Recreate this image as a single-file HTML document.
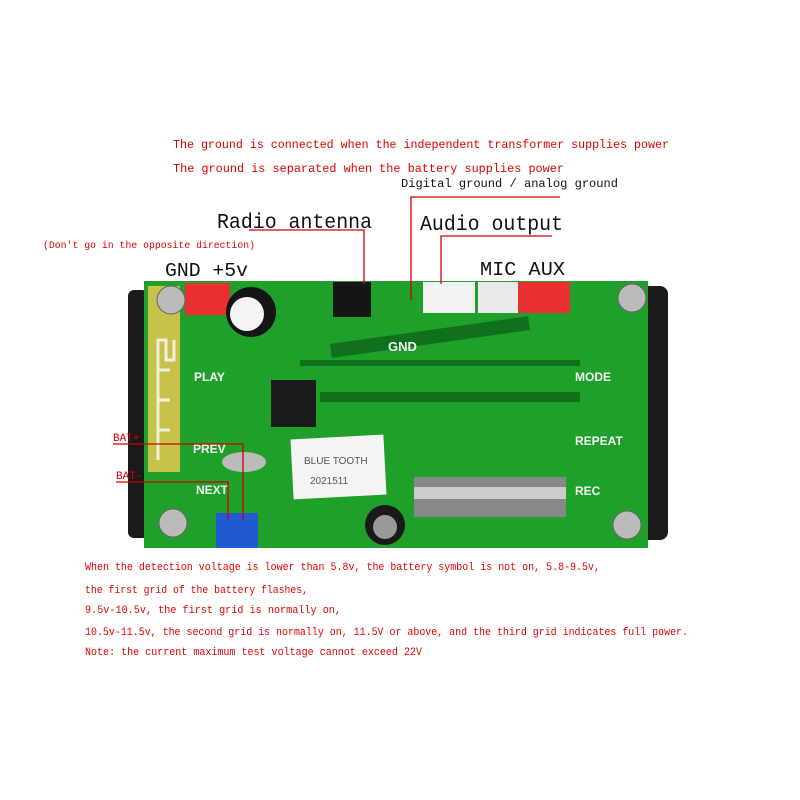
<!DOCTYPE html>
<html><head><meta charset="utf-8"><style>html,body{margin:0;padding:0;background:#fff}svg{display:block}</style></head><body>
<svg width="800" height="800" viewBox="0 0 800 800" xmlns="http://www.w3.org/2000/svg">
<rect width="800" height="800" fill="#fff"/>
<g font-family="Liberation Mono, monospace" fill="#e00000" font-size="12">
<text x="173" y="148" textLength="496" lengthAdjust="spacingAndGlyphs">The ground is connected when the independent transformer supplies power</text>
<text x="173" y="172" textLength="391" lengthAdjust="spacingAndGlyphs">The ground  is separated when the battery supplies power</text>
<text x="43" y="248" font-size="10" textLength="212" lengthAdjust="spacingAndGlyphs">(Don't go in the opposite direction)</text>
</g>
<text x="401" y="187" font-family="Liberation Mono, monospace" font-size="12" fill="#111" textLength="217" lengthAdjust="spacingAndGlyphs">Digital ground  / analog ground</text>
<g font-family="Liberation Mono, monospace" fill="#111" font-size="21">
<text x="217" y="228" textLength="155" lengthAdjust="spacingAndGlyphs">Radio antenna</text>
<text x="420" y="230" textLength="143" lengthAdjust="spacingAndGlyphs">Audio output</text>
<text x="165" y="276" font-size="19" textLength="83" lengthAdjust="spacingAndGlyphs">GND +5v</text>
<text x="480" y="275" font-size="19" textLength="85" lengthAdjust="spacingAndGlyphs">MIC AUX</text>
</g>
<rect x="128" y="290" width="20" height="248" fill="#1a1a1a" rx="6"/>
<rect x="640" y="286" width="28" height="254" fill="#1a1a1a" rx="8"/>
<rect x="144" y="281" width="504" height="267" fill="#1fa02a"/>
<rect x="148" y="286" width="32" height="186" fill="#c9c24a"/>
<path d="M158 460 V340 h8 v20 h8 v-20 M158 430 h12 M158 400 h12 M158 370 h12" stroke="#f0f0e0" stroke-width="3" fill="none"/>
<g fill="#11701c">
<rect x="330" y="330" width="200" height="14" transform="rotate(-8 430 337)"/>
<rect x="320" y="392" width="260" height="10"/>
<rect x="300" y="360" width="280" height="6"/>
</g>
<rect x="185" y="283" width="45" height="32" fill="#e83030"/>
<circle cx="251" cy="312" r="25" fill="#151515"/><circle cx="247" cy="314" r="17" fill="#f4f4f4"/>
<rect x="333" y="282" width="38" height="35" fill="#151515"/>
<rect x="423" y="282" width="52" height="31" fill="#f2f2f2"/>
<rect x="478" y="282" width="40" height="31" fill="#eaeaea"/>
<rect x="518" y="282" width="52" height="31" fill="#e83030"/>
<rect x="271" y="380" width="45" height="47" fill="#1a1a1a"/>
<rect x="292" y="437" width="93" height="60" fill="#f4f4f4" transform="rotate(-3 338 467)"/>
<text x="304" y="464" font-family="Liberation Sans, sans-serif" font-size="10" fill="#555">BLUE TOOTH</text>
<text x="310" y="484" font-family="Liberation Sans, sans-serif" font-size="10" fill="#555">2021511</text>
<rect x="414" y="477" width="152" height="40" fill="#888"/>
<rect x="414" y="487" width="152" height="12" fill="#ccc"/>
<rect x="216" y="513" width="42" height="35" fill="#1f5ad0"/>
<ellipse cx="244" cy="462" rx="22" ry="10" fill="#bbb"/>
<circle cx="385" cy="525" r="20" fill="#1a1a1a"/><circle cx="385" cy="527" r="12" fill="#999"/>
<g fill="#bbb" stroke="#666"><circle cx="171" cy="300" r="14"/><circle cx="632" cy="298" r="14"/><circle cx="173" cy="523" r="14"/><circle cx="627" cy="525" r="14"/></g>
<g font-family="Liberation Sans, sans-serif" font-weight="bold" fill="#f4f4f4" font-size="12">
<text x="194" y="381">PLAY</text><text x="193" y="453">PREV</text><text x="196" y="494">NEXT</text>
<text x="575" y="381">MODE</text><text x="575" y="445">REPEAT</text><text x="575" y="495">REC</text>
<text x="388" y="351" font-size="13">GND</text>
</g>
<g stroke="#d00000" stroke-width="1.3" fill="none">
<polyline points="249,230 364,230 364,284"/>
<polyline points="560,197 411,197 411,300"/>
<polyline points="552,236 441,236 441,284"/>
<polyline points="113,444 243,444 243,520"/>
<polyline points="116,482 228,482 228,520"/>
</g>
<g font-family="Liberation Mono, monospace" font-size="11" fill="#e00000">
<text x="113" y="441">BAT+</text><text x="116" y="479">BAT-</text>
</g>
<g font-family="Liberation Mono, monospace" fill="#e00000" font-size="10.6">
<text x="85" y="570" textLength="515" lengthAdjust="spacingAndGlyphs">When the detection voltage is lower than 5.8v, the battery symbol is not on, 5.8-9.5v,</text>
<text x="85" y="593" textLength="223" lengthAdjust="spacingAndGlyphs">the first grid of the battery flashes,</text>
<text x="85" y="613" textLength="256" lengthAdjust="spacingAndGlyphs"> 9.5v-10.5v, the first grid is normally on,</text>
<text x="85" y="635" textLength="603" lengthAdjust="spacingAndGlyphs">10.5v-11.5v, the second grid is normally on, 11.5V or above, and the third grid indicates full power.</text>
<text x="85" y="655" textLength="337" lengthAdjust="spacingAndGlyphs">Note: the current maximum test voltage cannot exceed 22V</text>
</g>
</svg>
</body></html>
